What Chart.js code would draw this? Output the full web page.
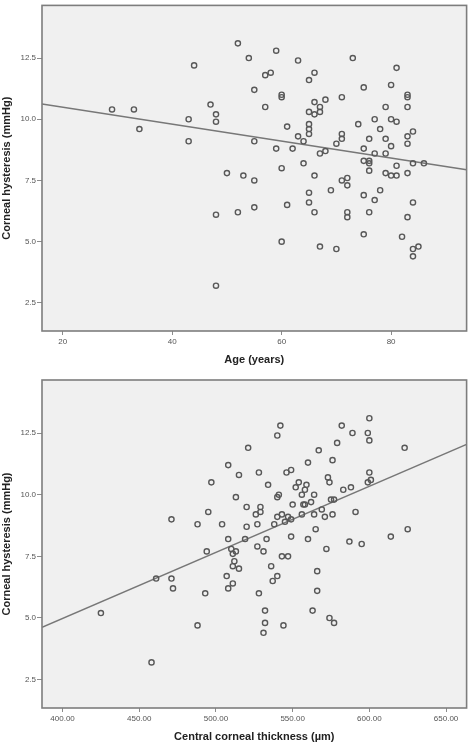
<!DOCTYPE html>
<html>
<head>
<meta charset="utf-8">
<script src="https://cdn.jsdelivr.net/npm/chart.js@4"></script>
<style>
  html, body { margin:0; padding:0; background:#fff; }
  .wrap { position:absolute; left:0; width:472px; }
</style>
</head>
<body>
<div class="wrap" style="top:0;height:372px"><canvas id="c1"></canvas></div>
<div class="wrap" style="top:372px;height:373px"><canvas id="c2"></canvas></div>
<script>
// ---- Data ----
const ageYears = [29,33,34,44,43,43,47,48,48,52,54,50,53,55,55,55,57,58,57,59,60,60,59,60,61,62,63,63,64,64,65,66,65,66,66,67,67,65,65,65,67,68,68,66,65,65,69,70,71,71,71,73,74,71,72,72,75,75,75,76,76,76,76,77,77,78,79,79,79,79,80,80,81,80,80,81,81,81,83,83,83,83,83,83,84,84,86,48,52,55,60,61,66,67,70,72,72,75,77,78,76,75,84,83,82,84,85,84,48];
const ageCH    = [10.4,10.4,9.6,12.2,10.0,9.1,10.6,10.2,9.9,13.1,12.5,7.8,7.7,7.5,11.2,9.1,11.8,11.9,10.5,12.8,11.0,10.9,8.8,8.0,9.7,8.8,12.4,9.3,9.1,8.2,11.6,11.9,10.3,10.7,10.2,10.5,10.3,9.8,9.6,9.4,8.6,8.7,10.8,7.7,7.0,6.6,7.1,9.0,9.4,9.2,10.9,12.5,9.8,7.5,7.6,7.3,11.3,8.8,8.3,8.3,8.2,7.9,9.2,10.0,8.6,9.6,10.5,9.2,8.6,7.8,11.4,10.0,9.9,8.9,7.7,7.7,8.1,12.1,11.0,10.9,10.5,9.3,9.0,7.8,9.5,8.2,8.2,6.1,6.2,6.4,5.0,6.5,6.2,4.8,4.7,6.2,6.0,6.9,6.7,7.1,6.2,5.3,6.6,6.0,5.2,4.7,4.8,4.4,3.2];

const cctUm = [471,488,495,497,504,508,508,515,513,520,520,521,519,510,513,526,529,529,527,528,527,531,533,534,538,540,541,540,543,545,547,549,540,542,546,549,550,549,543,547,552,554,556,558,559,557,558,556,560,560,562,564,564,565,567,569,571,573,574,575,577,576,576,572,579,582,583,588,589,591,587,595,599,600,600,600,599,601,614,623,625,494,511,512,511,515,507,511,508,536,540,537,528,493,461,471,472,425,488,532,532,531,544,563,566,566,574,577,458];
const cctCH = [9.0,8.8,9.3,10.5,8.8,11.2,8.2,10.8,9.9,9.5,8.7,11.9,8.2,7.8,7.7,9.2,9.3,9.5,8.8,10.9,7.9,7.7,8.2,10.4,8.8,9.9,10.0,9.1,9.2,8.9,9.1,9.0,12.4,12.8,10.9,11.0,9.6,8.3,7.5,7.5,10.3,10.5,10.0,10.2,10.4,9.6,9.6,9.2,11.3,8.2,9.7,10.0,9.2,8.6,11.8,9.4,9.1,10.7,10.5,9.8,9.8,9.2,11.4,7.8,12.1,12.8,10.2,10.3,12.5,9.3,8.1,8.0,12.5,13.1,12.2,10.9,10.5,10.6,8.3,11.9,8.6,7.7,7.6,7.3,7.1,7.0,6.7,6.4,6.2,7.1,6.7,6.5,6.0,6.0,6.6,6.6,6.2,5.2,4.7,5.3,4.8,4.4,4.7,5.3,6.9,6.1,5.0,4.8,3.2];

// Fit-line end points
const ageFitX = [16.2, 93.8];
const ageFitY = [10.62, 7.94];
const cctFitX = [386.6, 663.4];
const cctFitY = [4.62, 12.04];

// Axis ranges and ticks
const chRange = [1.35, 14.65];
const chTicks = [2.5, 5.0, 7.5, 10.0, 12.5];
const chTickLabels = ['2.5', '5.0', '7.5', '10.0', '12.5'];
const ageRange = [16.2, 93.8];
const ageTicks = [20, 40, 60, 80];
const ageTickLabels = ['20', '40', '60', '80'];
const cctRange = [386.6, 663.4];
const cctTicks = [400, 450, 500, 550, 600, 650];
const cctTickLabels = ['400.00', '450.00', '500.00', '550.00', '600.00', '650.00'];

const yTitle = 'Corneal hysteresis (mmHg)';
const ageTitle = 'Age (years)';
const cctTitle = 'Central corneal thickness (\u00b5m)';

// ---- Rendering ----
const FONT = "'Liberation Sans', Arial, sans-serif";

const framePlugin = {
  id: 'frame',
  beforeDatasetsDraw(c) {
    const a = c.chartArea, ctx = c.ctx;
    ctx.save();
    ctx.fillStyle = '#f0f0f0';
    ctx.fillRect(a.left, a.top, a.right - a.left, a.bottom - a.top);
    ctx.restore();
  },
  afterDraw(c) {
    const a = c.chartArea, ctx = c.ctx;
    ctx.save();
    ctx.strokeStyle = '#7d7d7d';
    ctx.lineWidth = 1.6;
    ctx.strokeRect(a.left, a.top, a.right - a.left, a.bottom - a.top);
    ctx.restore();
  }
};

function zip(xs, ys) { return xs.map((x, i) => ({ x: x, y: ys[i] })); }

function makeChart(id, xs, ys, fx, fy, xRange, xTicks, xLabels, xTitle, pad, xHeight, titlePad) {
  return new Chart(document.getElementById(id), {
    type: 'scatter',
    data: {
      datasets: [
        {
          data: zip(fx, fy),
          showLine: true,
          borderColor: '#777777',
          borderWidth: 1.6,
          pointRadius: 0,
          order: 2
        },
        {
          data: zip(xs, ys),
          pointStyle: 'circle',
          pointRadius: 2.6,
          pointBorderWidth: 1.4,
          pointBorderColor: '#585858',
          pointBackgroundColor: 'rgba(0,0,0,0)',
          order: 1
        }
      ]
    },
    options: {
      responsive: true,
      maintainAspectRatio: false,
      animation: false,
      events: [],
      layout: { padding: pad },
      plugins: { legend: { display: false }, tooltip: { enabled: false } },
      scales: {
        x: {
          type: 'linear',
          min: xRange[0], max: xRange[1],
          afterBuildTicks: s => { s.ticks = xTicks.map(v => ({ value: v })); },
          afterFit: s => { s.height = xHeight; s.paddingLeft = 0; s.paddingRight = 0; },
          border: { display: false },
          grid: { display: true, drawOnChartArea: false, drawTicks: true, tickLength: 4, color: '#8c8c8c' },
          ticks: {
            padding: 2,
            maxRotation: 0,
            autoSkip: false,
            color: '#555',
            font: { family: FONT, size: 8 },
            callback: (v) => { const i = xTicks.indexOf(v); return i >= 0 ? xLabels[i] : ''; }
          },
          title: {
            display: true, text: xTitle, color: '#222',
            font: { family: FONT, size: 11, weight: 'bold' },
            padding: { top: 0, bottom: titlePad }
          }
        },
        y: {
          type: 'linear',
          min: chRange[0], max: chRange[1],
          afterBuildTicks: s => { s.ticks = chTicks.map(v => ({ value: v })); },
          afterFit: s => { s.width = 42; s.paddingTop = 0; s.paddingBottom = 0; },
          border: { display: false },
          grid: { display: true, drawOnChartArea: false, drawTicks: true, tickLength: 5, color: '#8c8c8c' },
          ticks: {
            padding: 1,
            autoSkip: false,
            color: '#555',
            font: { family: FONT, size: 8 },
            callback: (v) => { const i = chTicks.indexOf(v); return i >= 0 ? chTickLabels[i] : ''; }
          },
          title: {
            display: true, text: yTitle, color: '#222',
            font: { family: FONT, size: 11, weight: 'bold' },
            padding: { top: 0, bottom: 0 }
          }
        }
      }
    },
    plugins: [framePlugin]
  });
}

makeChart('c1', ageYears, ageCH, ageFitX, ageFitY, ageRange, ageTicks, ageTickLabels, ageTitle,
  { left: 0, right: 3, top: 3, bottom: 0 }, 41, 5);
makeChart('c2', cctUm, cctCH, cctFitX, cctFitY, cctRange, cctTicks, cctTickLabels, cctTitle,
  { left: 0, right: 3, top: 8, bottom: 0 }, 37, 1);
</script>
</body>
</html>
